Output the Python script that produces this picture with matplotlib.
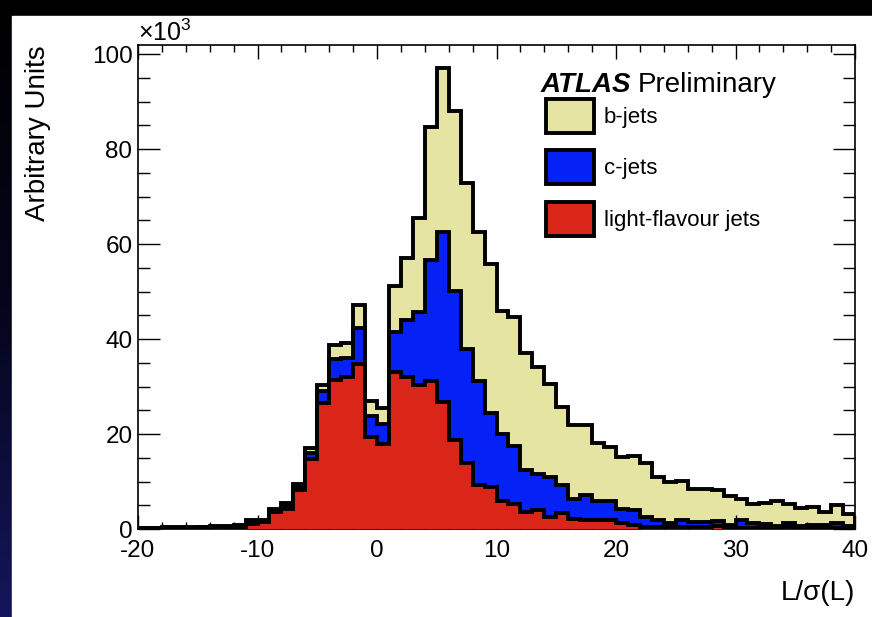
"""Stacked L/sigma(L) distribution for b, c and light-flavour jets (ATLAS style)."""
import matplotlib

matplotlib.use("Agg")
import matplotlib.pyplot as plt
import numpy as np
from matplotlib.patches import Patch, Rectangle
from matplotlib.ticker import MultipleLocator

plt.rcParams["font.family"] = ["Liberation Sans", "DejaVu Sans"]
plt.rcParams["axes.unicode_minus"] = False
plt.rcParams["mathtext.fontset"] = "custom"
plt.rcParams["mathtext.rm"] = "Liberation Sans"

# bins of width 1 from -20 to 40, values in units of 10^3
BIN_EDGES = np.arange(-20, 41, 1)

LIGHT = [0.1, 0.1, 0.1, 0.1, 0.2, 0.2, 0.4, 0.2, 0.3, 1.1,
         1.4, 3.6, 4.3, 8.2, 14.7, 26.6, 31.4, 31.9, 34.7, 19.4,
         18.0, 33.1, 32.1, 30.3, 31.2, 26.8, 18.7, 13.8, 9.3, 8.8,
         6.0, 5.3, 3.6, 3.9, 2.6, 3.3, 2.2, 2.0, 1.8, 1.9,
         1.3, 0.8, 0.5, 0.4, 0.4, 0.4, 0.4, 0.4, 0.6, 0.3,
         0.3, 0.3, 0.2, 0.2, 0.4, 0.2, 0.3, 0.2, 0.3, 0.2]

C_JETS = [0.1, 0.1, 0.2, 0.2, 0.1, 0.2, 0.1, 0.2, 0.3, 0.4,
          0.3, 0.4, 0.6, 0.7, 1.4, 2.5, 4.3, 4.0, 7.7, 4.4,
          4.1, 8.4, 11.8, 15.3, 25.4, 35.8, 31.4, 24.2, 21.9, 15.7,
          13.9, 12.2, 8.8, 7.7, 8.4, 6.0, 4.2, 5.2, 4.0, 4.0,
          3.0, 3.3, 2.1, 1.6, 0.8, 1.5, 1.1, 1.1, 1.0, 0.5,
          1.5, 0.9, 0.9, 0.4, 0.9, 0.4, 0.5, 0.6, 0.9, 0.4]

B_JETS = [0.1, 0.1, 0.1, 0.1, 0.2, 0.1, 0.2, 0.2, 0.2, 0.4,
          0.3, 0.3, 0.5, 0.6, 1.0, 1.3, 3.0, 3.2, 4.8, 3.1,
          3.3, 9.7, 13.1, 19.8, 28.1, 34.5, 37.8, 34.9, 31.3, 31.3,
          26.1, 27.1, 24.6, 22.6, 19.5, 16.3, 15.6, 14.8, 12.4, 11.4,
          10.9, 11.3, 11.2, 9.0, 8.6, 8.2, 6.9, 6.9, 6.6, 6.1,
          4.5, 4.0, 4.3, 5.2, 3.9, 3.9, 3.8, 2.8, 3.9, 2.5]

LABELS = ["b-jets", "c-jets", "light-flavour jets"]
COLORS = ["#e6e4a2", "#0621f5", "#da2619"]

LW = 2.8

fig = plt.figure(figsize=(8.72, 6.17), dpi=100)
fig.patch.set_facecolor("black")

# dark frame around the white canvas
ax_bg = fig.add_axes([0, 0, 1, 1], zorder=-1)
grad = np.linspace(0, 1, 256).reshape(-1, 1)
ax_bg.imshow(grad, extent=[0, 1, 0, 1], aspect="auto", origin="upper",
             cmap=matplotlib.colors.LinearSegmentedColormap.from_list(
                 "bg", ["#000000", "#05051c", "#15155c"]))
ax_bg.add_patch(Rectangle((12 / 872, 0), 1, 1 - 16 / 617, color="white"))
ax_bg.set_xlim(0, 1)
ax_bg.set_ylim(0, 1)
ax_bg.axis("off")

ax = fig.add_axes([138 / 872, 1 - 529 / 617, 717 / 872, 484 / 617])
ax.set_facecolor("white")

light = np.array(LIGHT)
c_stack = light + np.array(C_JETS)
b_stack = c_stack + np.array(B_JETS)

for i, (vals, col) in enumerate(zip([b_stack, c_stack, light], COLORS)):
    ax.stairs(vals, BIN_EDGES, fill=True, color=col, linewidth=0, zorder=1 + 2 * i)
    ax.stairs(vals, BIN_EDGES, color="black", linewidth=LW, zorder=2 + 2 * i)

ax.set_xlim(-20, 40)
ax.set_ylim(0, 101.9)

ax.xaxis.set_major_locator(MultipleLocator(10))
ax.xaxis.set_minor_locator(MultipleLocator(2))
ax.yaxis.set_major_locator(MultipleLocator(20))
ax.yaxis.set_minor_locator(MultipleLocator(5))
ax.tick_params(axis="both", which="both", direction="in", top=True, right=True,
               labelsize=17.5, width=1.0)
ax.tick_params(axis="x", which="major", length=10, pad=8)
ax.tick_params(axis="x", which="minor", length=5)
ax.tick_params(axis="y", which="major", length=16, pad=4)
ax.tick_params(axis="y", which="minor", length=8.5)
ax.set_axisbelow(False)
for sp in ax.spines.values():
    sp.set_linewidth(1.2)

ax.set_xlabel("L/σ(L)", fontsize=20, loc="right")
ax.xaxis.set_label_coords(1.0, -0.105)
ax.set_ylabel("Arbitrary Units", fontsize=20, loc="top")
ax.yaxis.set_label_coords(-0.122, 1.0)

ax.text(0.0, 0.998, r"$\times10^{3}$", transform=ax.transAxes, ha="left", va="bottom",
        fontsize=18)

ax.text(0.561, 0.903, "ATLAS", transform=ax.transAxes, fontsize=20,
        fontweight="bold", style="italic", va="baseline")
ax.text(0.697, 0.903, "Preliminary", transform=ax.transAxes, fontsize=20, va="baseline")

handles = [Patch(facecolor=c, edgecolor="black", linewidth=LW) for c in COLORS]
ax.legend(handles, LABELS, loc="upper left", bbox_to_anchor=(0.569, 0.888),
          frameon=False, fontsize=16, handlelength=2.16, handleheight=1.98,
          labelspacing=0.77, handletextpad=0.45, borderpad=0, borderaxespad=0)

fig.savefig("out.png", dpi=100, facecolor=fig.get_facecolor())
